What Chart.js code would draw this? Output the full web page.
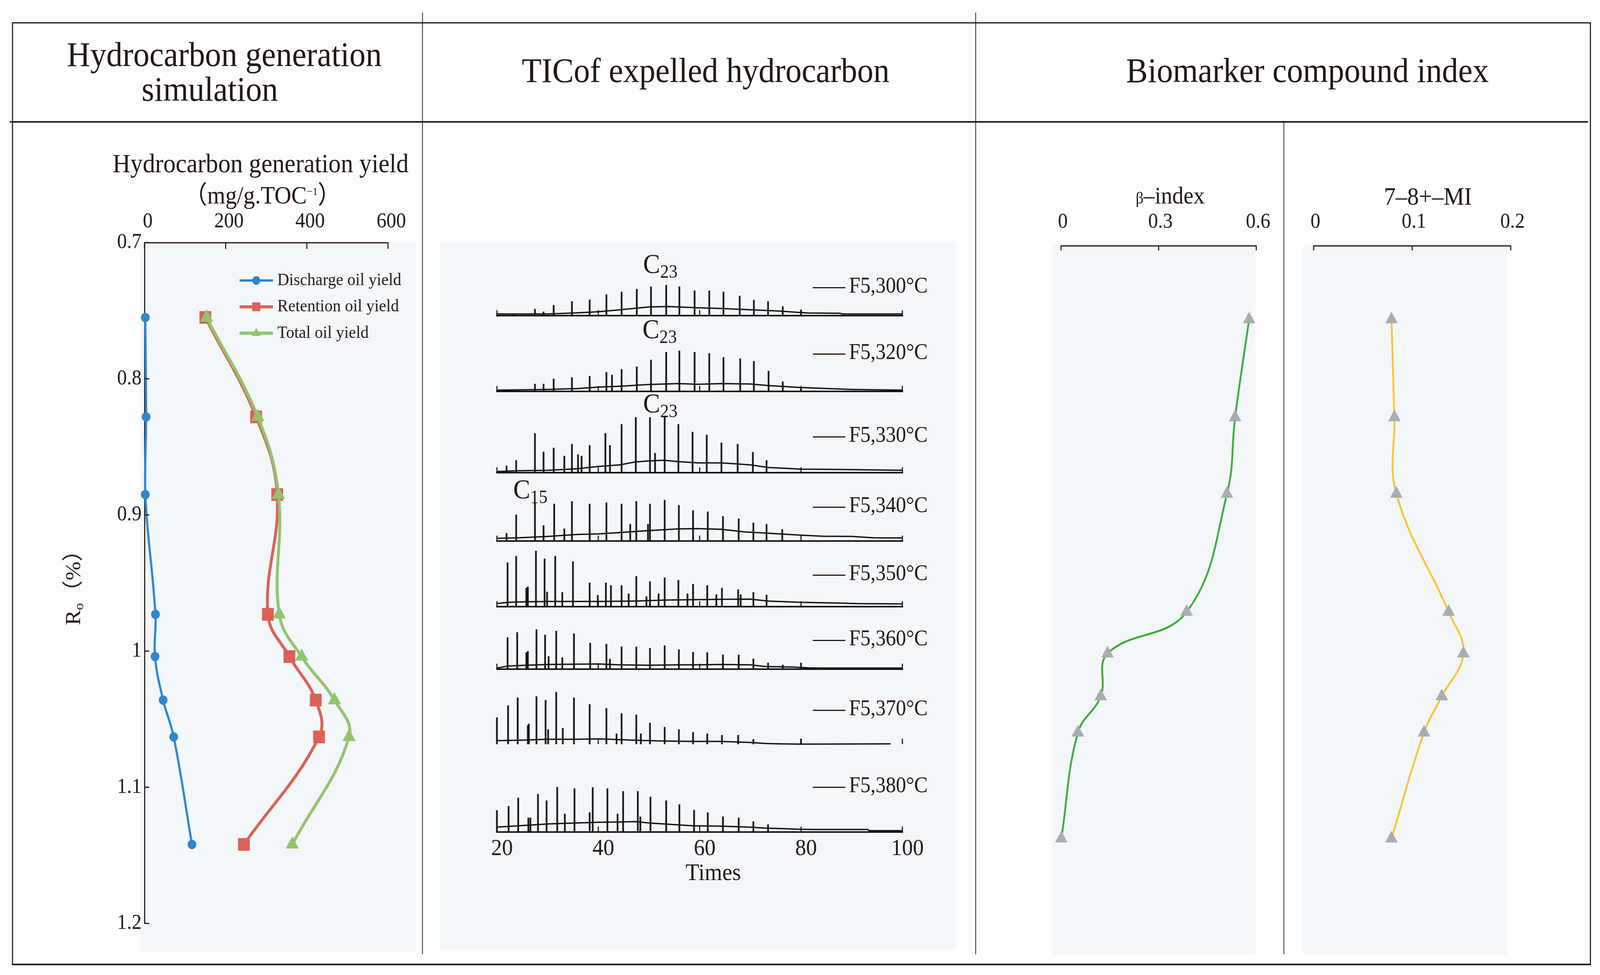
<!DOCTYPE html>
<html>
<head>
<meta charset="utf-8">
<script src="https://cdn.jsdelivr.net/npm/chart.js@4.4.1/dist/chart.umd.min.js"></script>
<style>
  html, body { margin: 0; padding: 0; background: #fdfdfd; overflow: hidden; }
  #page { position: relative; width: 4408px; height: 2496px; overflow: hidden; transform-origin: 0 0;
          font-family: 'Liberation Serif', 'Times New Roman', 'Noto Sans CJK SC', serif; color: #231815; }
  .ln { position: absolute; background: #231815; }
  .bg { position: absolute; background: #f3f7fa; }
  canvas { position: absolute; }
  .tx { position: absolute; white-space: nowrap; line-height: 1; }
  .dash { display: inline-block; width: 90px; height: 3px; background: #231815; vertical-align: middle; margin-right: 10px; }
</style>
</head>
<body>
<div id="page"></div>
<script>
// --- Data: hydrocarbon generation simulation ---
const roValues = [0.755, 0.828, 0.885, 0.973, 1.004, 1.036, 1.063, 1.142];
const dischargeYield = [2, 4, 2, 27, 26, 46, 72, 117];
const retentionYield = [150, 275, 327, 304, 357, 422, 430, 245];
const totalYield = [153, 279, 330, 332, 387, 468, 504, 364];

// --- Data: biomarker indexes ---
const betaIndex = [0.578, 0.535, 0.510, 0.386, 0.143, 0.122, 0.052, 0.001];
const miIndex = [0.079, 0.082, 0.084, 0.137, 0.152, 0.130, 0.112, 0.079];

// --- Tick labels ---
const yieldTicks = [0, 200, 400, 600];
const roTicks = [0.7, 0.8, 0.9, 1, 1.1, 1.2];
const betaTicks = [0, 0.3, 0.6];
const miTicks = [0, 0.1, 0.2];
const timeTicks = [20, 40, 60, 80, 100];

// --- Data: TIC traces, [time, abundance] ---
const ticSamples = ['F5,300°C', 'F5,320°C', 'F5,330°C', 'F5,340°C', 'F5,350°C', 'F5,360°C', 'F5,370°C', 'F5,380°C'];

const peaks300 = [[23.3,5.7],[27.5,16.7],[29.2,10],[31.2,26.7],[34.8,36.7],[38.3,40.7],[41.6,54.3],[44.6,61],[47.6,67.7],[50.4,74.3],
  [53.4,78.3],[56.0,74.3],[59.0,64],[61.9,64],[64.7,61],[67.9,50.7],[70.7,40],[73.5,36.7],[76.4,23.3],[80.0,15]];
const hump300 = [[20,4.3],[30,4.3],[35.2,6.7],[40.1,10],[44.3,15],[50,22.3],[54,23.3],[59.7,20],[64.3,18.3],[70,15],
  [75.7,11.7],[80,7.7],[81.4,6.7],[87.7,6],[88,4.3],[100,4.3]];

const peaks320 = [[27.5,19],[29.2,19],[31.2,32.3],[34.8,35.7],[38.3,39],[41.6,49],[42.7,42.3],[44.6,56.7],[47.6,63.3],[50.4,80.7],
  [53.4,100.7],[56.0,104],[59.0,100.7],[61.9,97.3],[64.7,87.3],[68.0,84],[70.7,77.3],[73.6,52.3],[76.4,25],[80.0,11.7]];
const hump320 = [[20,3.3],[30.1,5],[35.8,7.3],[40.1,11],[44.3,13.3],[50,17.7],[55.8,20],[59.7,18.3],[64.3,20],[70,19],
  [73.5,15],[75.7,13.3],[80,10],[84.3,7.7],[90,5],[100,3.3]];

const peaks330 = [[21.9,17.3],[23.8,31.7],[27.5,100.7],[29.2,53.3],[31.2,63.3],[33.3,42.7],[34.8,73.3],[36.0,46.7],[36.7,42.7],[38.3,70],
  [41.4,100.7],[42.3,70],[44.6,124],[47.4,141.7],[50.2,141.7],[51.2,50],[53.1,141.7],[55.8,124],[58.6,104],[61.4,96.7],
  [64.3,76.7],[67.5,73.3],[70.5,52.7],[73.2,31.7]];
const hump330 = [[20,2.7],[24.3,5],[30.1,6],[35.8,10],[40.1,16],[44.3,20],[47.2,27.3],[50,30],[52.9,31.7],[55.8,28.3],
  [59.7,25],[64.3,25],[70,20],[73.5,13.3],[78.6,10],[80,9],[87.2,8.3],[100,6]];

const peaks340 = [[21.9,20],[23.8,67.3],[27.5,98.3],[29.2,40],[31.3,95],[33.3,31.7],[34.8,101.7],[38.3,95],[41.6,98.3],[44.6,95],
  [46.3,43.3],[47.5,101.7],[49.8,43.3],[50.2,95],[53.1,105],[55.9,91.7],[58.7,78.3],[61.6,75],[64.6,63.3],[67.7,57.3],
  [70.6,46.7],[73.2,43.3],[76.3,30]];
const hump340 = [[20,6.7],[24.3,8.3],[30.1,11.7],[35.8,16.7],[40.1,18.3],[44.3,21.7],[50,26.7],[55.8,31],[59.7,31.7],[64.3,30],
  [68.9,23.3],[73.5,20],[75.7,18.3],[80,15],[84.3,12.3],[90,11.7],[94.3,8.3],[100,7.7]];

const peaks350 = [[22.1,112.7],[23.8,129.3],[25.8,47.7],[26.1,51],[27.7,142.7],[29.4,122.7],[29.9,37.7],[31.5,129.3],[32.9,36.7],[35.0,115.3],
  [38.3,61],[39.9,29.3],[41.5,61],[42.5,54.3],[44.6,54.3],[46.0,33.3],[47.5,77.7],[49.5,26],[50.2,64.3],[51.9,33.3],
  [53.1,74.3],[55.8,67.7],[57.6,33.3],[58.7,57.7],[61.5,54.3],[63.3,31],[64.4,47.7],[67.6,43.7],[68.1,31],[70.6,36.7],[73.2,30]];
const hump350 = [[20,7.7],[22.1,11],[24.3,12],[30.1,13.3],[40.1,13.3],[47.2,14.3],[52.9,16.7],[58.6,17.7],[64.3,18.7],[70,19.3],
  [73.5,14.3],[80,11],[87.2,9.3],[91.2,7.7],[100,7]];

const peaks360 = [[22.1,81],[24.0,94.3],[25.8,42.7],[26.1,46],[27.8,101.7],[29.5,87.7],[30.2,32.7],[31.7,97.7],[32.9,30],[35.2,91],
  [38.4,67],[41.6,64.3],[42.3,26],[44.6,57.7],[47.5,57],[50.2,53.7],[53.1,60.3],[55.9,50.3],[58.7,43.3],[61.5,42.7],
  [64.6,37],[67.7,36.7],[70.6,26.7],[73.5,16],[76.4,11],[80.0,16]];
const hump360 = [[20,2.7],[22.1,7.7],[24.3,9.3],[30.1,12],[35.8,12.7],[40.1,13.3],[44.3,11],[50,10],[55.8,11],[59.7,11],
  [64.3,12],[70,11],[72.9,6.7],[78.6,5.3],[81.4,3.3],[84.9,2.7],[100,2.7]];

const peaks370 = [[20.0,67.9],[22.2,98.9],[24.1,118.9],[26.1,48.2],[26.3,51.8],[27.8,122.1],[29.6,112.5],[30.1,37.5],[31.7,132.9],[33.0,41.1],
  [35.2,118.9],[38.3,101.8],[41.6,91.8],[43.6,26.8],[44.6,78.6],[47.5,75],[48.4,26.8],[50.2,54.3],[53.1,43.6],[55.9,37.5],
  [58.7,30.4],[61.5,26.8],[64.4,23.2],[67.6,23.2],[70.6,12.5],[80.0,13.6]];
const hump370 = [[20,8.9],[24.3,10],[30.1,12.5],[35.8,12.5],[40.1,13.6],[44.3,11.4],[47.2,10],[52.9,7.9],[58.6,7.1],[64.3,7.1],
  [70,4.3],[72.9,1.8],[75.7,0.7],[80,0],[97.7,0.7]];

const peaks380 = [[20.0,55.4],[22.3,66.1],[24.2,87.5],[26.2,36.4],[26.6,36.4],[28.1,97.1],[29.8,80.4],[31.9,115],[33.4,46.4],[35.3,111.4],
  [38.3,50],[38.9,114.3],[41.8,111.4],[43.8,46.4],[44.9,104.3],[47.8,104.3],[48.3,39.3],[50.3,90],[53.4,80.4],[56.0,70.7],
  [58.9,56.4],[61.6,50],[64.6,39.3],[67.7,36.4],[70.6,26.8],[73.5,19.6]];
const hump380 = [[20,12.5],[22.1,14.3],[24.3,16.1],[30.1,20.7],[35.8,23.2],[40.1,25],[44.3,25.7],[47.2,26.8],[50,23.2],[52.9,20.7],
  [58.6,16.1],[64.3,15],[70,12.5],[72.9,10],[75.7,8.9],[80,7.1],[82.6,6.4],[93.2,6.4],[93.4,3.6],[100,3.6]];

const ticPeaks = [peaks300, peaks320, peaks330, peaks340, peaks350, peaks360, peaks370, peaks380];
const ticHumps = [hump300, hump320, hump330, hump340, hump350, hump360, hump370, hump380];

// --- Layout ---
const ink = '#231815';
const traceAxisY = [808, 1002, 1210, 1385, 1553, 1713, 1905, 2130];
const traceLabelY = [730, 900, 1112, 1292, 1466, 1633, 1812, 2009];

Chart.defaults.font.family = "'Liberation Serif', 'Times New Roman', serif";
Chart.defaults.color = ink;

const page = document.getElementById('page');

// fit the 4408x2496 drawing into whatever viewport we actually get
function fitPage() {
    const vw = window.innerWidth || 4408, vh = window.innerHeight || 2496;
    page.style.transform = 'scale(' + (vw / 4408) + ',' + (vh / 2496) + ')';
}
fitPage();

function box(cls, x, y, w, h) {
    const d = document.createElement('div');
    d.className = cls;
    Object.assign(d.style, { left: x + 'px', top: y + 'px', width: w + 'px', height: h + 'px' });
    page.appendChild(d);
    return d;
}

function text(html, x, y, size, anchor = 'center', extra = {}) {
    const d = document.createElement('div');
    d.className = 'tx';
    d.innerHTML = html;
    d.style.left = x + 'px';
    d.style.top = y + 'px';
    d.style.fontSize = size + 'px';
    d.style.transform = anchor === 'center' ? 'translate(-50%, -50%)' : 'translateY(-50%)';
    Object.assign(d.style, extra);
    page.appendChild(d);
    return d;
}

function canvasAt(x, y, w, h) {
    const c = document.createElement('canvas');
    c.width = w;
    c.height = h;
    Object.assign(c.style, { left: x + 'px', top: y + 'px', width: w + 'px', height: h + 'px' });
    page.appendChild(c);
    return c;
}

// panel backgrounds
box('bg', 386, 618, 759, 1820);
box('bg', 1213, 618, 1421, 1814);
box('bg', 2897, 627, 562, 1816);
box('bg', 3590, 627, 562, 1816);

// frame
box('ln', 34, 57, 4349, 3);
box('ln', 27, 310, 4348, 4);
box('ln', 34, 2467, 4349, 4);
box('ln', 33, 57, 3, 2413);
box('ln', 4380, 57, 3, 2413);
box('ln', 1163, 32, 2, 2411);
box('ln', 2687, 32, 2, 2411);
box('ln', 3536, 312, 2, 2131);

// --- Plugins ---
const innerTicks = {
    id: 'innerTicks',
    afterDraw(chart, args, o) {
        const { ctx, chartArea } = chart;
        ctx.save();
        ctx.strokeStyle = ink;
        ctx.lineWidth = 3;
        if (o.x) {
            const sx = chart.scales.x;
            sx.ticks.forEach(t => {
                const p = sx.getPixelForValue(t.value);
                ctx.beginPath();
                ctx.moveTo(p, chartArea.top);
                ctx.lineTo(p, chartArea.top + o.x);
                ctx.stroke();
            });
        }
        if (o.y) {
            const sy = chart.scales.y;
            sy.ticks.forEach(t => {
                const p = sy.getPixelForValue(t.value);
                ctx.beginPath();
                ctx.moveTo(chartArea.left, p);
                ctx.lineTo(chartArea.left + o.y, p);
                ctx.stroke();
            });
        }
        ctx.restore();
    }
};

function drawMarker(ctx, style, x, y, r, color) {
    ctx.fillStyle = color;
    ctx.beginPath();
    if (style === 'rect') {
        const s = r * Math.SQRT1_2;
        ctx.rect(x - s, y - s, 2 * s, 2 * s);
    } else if (style === 'triangle') {
        ctx.moveTo(x, y - r);
        ctx.lineTo(x + r * 0.866, y + r / 2);
        ctx.lineTo(x - r * 0.866, y + r / 2);
        ctx.closePath();
    } else {
        ctx.arc(x, y, r, 0, Math.PI * 2);
    }
    ctx.fill();
}

const yieldLegend = {
    id: 'yieldLegend',
    afterDraw(chart, args, o) {
        const ctx = chart.ctx;
        chart.data.datasets.forEach((ds, i) => {
            const y = o.top + i * o.gap;
            ctx.save();
            ctx.strokeStyle = ds.borderColor;
            ctx.lineWidth = ds.borderWidth;
            ctx.beginPath();
            ctx.moveTo(o.left, y);
            ctx.lineTo(o.left + o.len, y);
            ctx.stroke();
            drawMarker(ctx, ds.pointStyle, o.left + o.len / 2, y, o.r[i], ds.pointBackgroundColor);
            ctx.fillStyle = ink;
            ctx.font = o.size + "px 'Liberation Serif'";
            ctx.textBaseline = 'middle';
            ctx.fillText(ds.label, o.left + o.len + 12, y);
            ctx.restore();
        });
    }
};

const traceAxis = {
    id: 'traceAxis',
    afterDatasetsDraw(chart, args, o) {
        const { ctx } = chart;
        const sx = chart.scales.x, sy = chart.scales.y;
        const y0 = sy.getPixelForValue(0);
        ctx.save();
        ctx.strokeStyle = '#141414';
        if (o.line) {
            ctx.lineWidth = 4;
            ctx.beginPath();
            ctx.moveTo(sx.getPixelForValue(sx.min) - 2, y0);
            ctx.lineTo(sx.getPixelForValue(sx.max) + 2, y0);
            ctx.stroke();
        }
        ctx.lineWidth = 3;
        o.ticks.forEach(v => {
            const p = sx.getPixelForValue(v);
            ctx.beginPath();
            ctx.moveTo(p, y0);
            ctx.lineTo(p, y0 - 14);
            ctx.stroke();
        });
        ctx.restore();
    }
};

const fixedTicks = values => scale => { scale.ticks = values.map(v => ({ value: v })); };

// --- Left: generation yield vs Ro ---
function yieldSeries(label, values, color, style, radius, width, order) {
    return {
        label,
        data: values.map((v, i) => ({ x: v, y: roValues[i] })),
        borderColor: color,
        backgroundColor: color,
        borderWidth: width,
        pointStyle: style,
        pointRadius: radius,
        pointBackgroundColor: color,
        pointBorderWidth: 0,
        tension: 0.4,
        borderCapStyle: 'round',
        borderJoinStyle: 'round',
        clip: false,
        order
    };
}

new Chart(canvasAt(170, 480, 1000, 2000), {
    type: 'line',
    data: {
        datasets: [
            yieldSeries('Discharge oil yield', dischargeYield, '#2f86cc', 'circle', 12, 6, 3),
            yieldSeries('Retention oil yield', retentionYield, '#db6257', 'rect', 23, 8, 2),
            yieldSeries('Total oil yield', totalYield, '#93c46c', 'triangle', 21, 8, 1)
        ]
    },
    options: {
        responsive: false,
        animation: false,
        devicePixelRatio: 1,
        layout: { padding: { top: 0, left: 0, right: 101, bottom: 116 } },
        plugins: {
            legend: { display: false },
            tooltip: { enabled: false },
            innerTicks: { x: 16, y: 13 },
            yieldLegend: { left: 490, len: 92, top: 238, gap: 67.5, size: 45, r: [11, 16, 14] }
        },
        scales: {
            x: {
                type: 'linear', position: 'top', min: 0, max: 600,
                afterBuildTicks: fixedTicks(yieldTicks),
                afterFit: s => { s.height = 141; },
                grid: { display: false, drawTicks: false },
                border: { display: true, color: ink, width: 3 },
                ticks: { padding: 21, labelOffset: 9, font: { size: 54 }, color: ink, maxRotation: 0, autoSkip: false, callback: v => String(v) }
            },
            y: {
                type: 'linear', reverse: true, min: 0.7, max: 1.2,
                afterBuildTicks: fixedTicks(roTicks),
                afterFit: s => { s.width = 228; },
                grid: { display: false, drawTicks: false },
                border: { display: true, color: ink, width: 3 },
                ticks: { padding: 8, font: { size: 54 }, color: ink, autoSkip: false, callback: v => String(v) }
            }
        }
    },
    plugins: [innerTicks, yieldLegend]
});

// --- Middle: TIC traces ---
ticSamples.forEach((name, i) => {
    const last = i === ticSamples.length - 1;
    const axisY = traceAxisY[i];
    const height = last ? 350 : 212;
    new Chart(canvasAt(1300, axisY - 200, 1250, height), {
        type: 'bar',
        data: {
            datasets: [
                {
                    type: 'bar',
                    data: ticPeaks[i].map(([t, v]) => ({ x: t, y: v })),
                    backgroundColor: '#141414',
                    borderWidth: 0,
                    barThickness: 4,
                    clip: false,
                    order: 0
                },
                {
                    type: 'line',
                    data: ticHumps[i].map(([t, v]) => ({ x: t, y: v })),
                    borderColor: '#141414',
                    borderWidth: 3.5,
                    pointRadius: 0,
                    tension: 0,
                    clip: false,
                    order: 1
                }
            ]
        },
        options: {
            responsive: false,
            animation: false,
            devicePixelRatio: 1,
            layout: { padding: { top: 0, left: 69, right: 64, bottom: last ? 0 : 12 } },
            plugins: {
                legend: { display: false },
                tooltip: { enabled: false },
                traceAxis: {
                    line: name !== 'F5,370°C',
                    ticks: name === 'F5,370°C' ? timeTicks.filter(v => v === 40 || v === 100) : timeTicks
                }
            },
            scales: {
                x: {
                    type: 'linear', min: 20, max: 100, offset: false, display: last,
                    afterBuildTicks: fixedTicks(timeTicks),
                    afterFit: s => { if (last) s.height = 150; },
                    grid: { display: false, drawTicks: false },
                    border: { display: false },
                    ticks: { padding: 7, labelOffset: 14, font: { size: 60 }, color: ink, maxRotation: 0, autoSkip: false, callback: v => String(v) }
                },
                y: { min: 0, max: 200, display: false }
            }
        },
        plugins: [traceAxis]
    });
});

// --- Right: biomarker indexes ---
function indexChart(x, values, ticks, max, padL, padR, color) {
    new Chart(canvasAt(x, 480, 680, 1900), {
        type: 'line',
        data: {
            datasets: [{
                data: values.map((v, i) => ({ x: v, y: roValues[i] })),
                borderColor: color,
                borderWidth: 5,
                pointStyle: 'triangle',
                pointRadius: 20,
                pointBackgroundColor: '#a9adb0',
                pointBorderWidth: 0,
                tension: 0.4,
                borderCapStyle: 'round',
                clip: false
            }]
        },
        options: {
            responsive: false,
            animation: false,
            devicePixelRatio: 1,
            layout: { padding: { top: 0, left: padL, right: padR, bottom: 34 } },
            plugins: { legend: { display: false }, tooltip: { enabled: false }, innerTicks: { x: 12 } },
            scales: {
                x: {
                    type: 'linear', position: 'top', min: 0, max,
                    afterBuildTicks: fixedTicks(ticks),
                    afterFit: s => { s.height = 149; },
                    grid: { display: false, drawTicks: false },
                    border: { display: true, color: ink, width: 3 },
                    ticks: { padding: 28, labelOffset: 5, font: { size: 54 }, color: ink, maxRotation: 0, autoSkip: false, callback: v => String(v) }
                },
                y: { type: 'linear', reverse: true, min: 0.7, max: 1.2, display: false }
            }
        },
        plugins: [innerTicks]
    });
}
indexChart(2880, betaIndex, betaTicks, 0.6, 43, 99, '#3aac34');
indexChart(3560, miIndex, miTicks, 0.2, 59, 78, '#fdc232');

// --- Text ---
text('Hydrocarbon generation', 618, 139, 89);
text('simulation', 578, 228, 89);
text('TICof expelled hydrocarbon', 1944, 180, 89);
text('Biomarker compound index', 3602, 180, 89);

text('Hydrocarbon generation yield', 718, 418, 68);
text('（mg/g.TOC<sup style="font-size:28px;vertical-align:22px">−1</sup>）', 723, 500, 64);
text('R<span style="font-size:36px;position:relative;top:8px">o</span>（%）', 202, 1490, 58, 'center',
     { transform: 'translate(-50%, -50%) rotate(-90deg)' });

text('<span style="font-size:42px">β</span>–index', 3224, 500, 62);
text('7–8+–MI', 3934, 503, 64);

const carbonLabels = [['23', 1772, 653], ['23', 1770, 820], ['23', 1772, 1010], ['15', 1414, 1230]];
carbonLabels.forEach(([n, x, capTop]) => {
    text('C<span style="font-size:48px;position:relative;top:12px">' + n + '</span>', x, capTop - 12, 70, 'left',
         { transform: 'none' });
});

ticSamples.forEach((name, i) => {
    text('<span class="dash"></span>' + name, 2239, traceLabelY[i], 56, 'left');
});

text('Times', 1965, 2232, 62);
</script>
</body>
</html>
